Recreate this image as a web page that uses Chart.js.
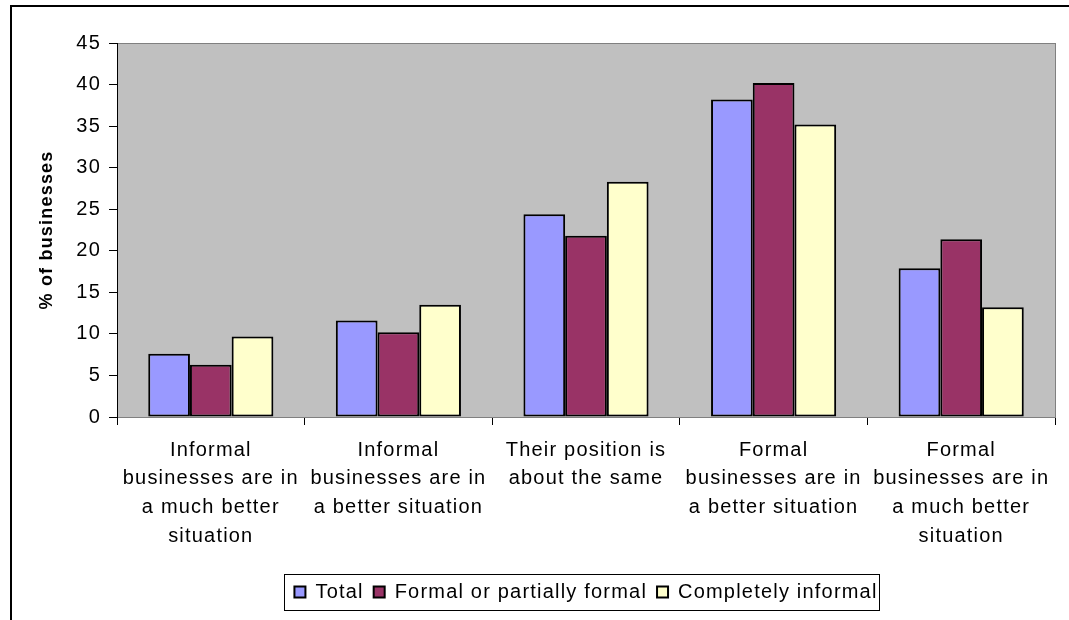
<!DOCTYPE html>
<html lang="en">

<head>
    <meta charset="UTF-8">
    <title>% of businesses</title>
    <script src="https://cdn.jsdelivr.net/npm/chart.js@4/dist/chart.umd.min.js"></script>
    <style>
        html, body { margin: 0; padding: 0; background: #fff; }
        #wrap { width: 1069px; height: 620px; }
    </style>
</head>

<body>
    <div id="wrap"><canvas id="chart" width="1069" height="620"></canvas></div>
    <script>
        const categories = [
            ['Informal', 'businesses are in', 'a much better', 'situation'],
            ['Informal', 'businesses are in', 'a better situation'],
            ['Their position is', 'about the same'],
            ['Formal', 'businesses are in', 'a better situation'],
            ['Formal', 'businesses are in', 'a much better', 'situation']
        ];
        const total = [7.6, 11.6, 24.4, 38.2, 17.9];
        const formalOrPartial = [6.3, 10.2, 21.8, 40.2, 21.4];
        const completelyInformal = [9.7, 13.5, 28.3, 35.2, 13.2];
        const yTicks = [0, 5, 10, 15, 20, 25, 30, 35, 40, 45];

        const FONT = 'Liberation Sans, Arial, sans-serif';
        const SPACING = '1.2px';

        // wide Excel-style text, grey plot area, frame round the chart, box round the legend
        const decor = {
            id: 'decor',
            beforeUpdate(chart) { chart.ctx.letterSpacing = SPACING; },
            beforeDraw(chart) {
                const { ctx, chartArea: a } = chart;
                ctx.letterSpacing = SPACING;
                ctx.save();
                ctx.fillStyle = '#c0c0c0';
                ctx.fillRect(a.left, a.top, a.right - a.left, a.bottom - a.top);
                ctx.strokeStyle = '#808080';
                ctx.lineWidth = 1;
                ctx.strokeRect(a.left + 0.5, a.top + 0.5, a.right - a.left, a.bottom - a.top);
                ctx.strokeStyle = '#000';
                ctx.lineWidth = 2;
                ctx.strokeRect(11, 6, 1200, 800);
                ctx.restore();
            },
            afterDraw(chart) {
                const boxes = chart.legend.legendHitBoxes;
                if (!boxes || !boxes.length) return;
                const l = Math.min(...boxes.map(b => b.left)) - 10;
                const r = Math.max(...boxes.map(b => b.left + b.width)) + 2;
                const t = boxes[0].top - 8;
                const h = boxes[0].height + 16;
                const ctx = chart.ctx;
                ctx.save();
                ctx.strokeStyle = '#000';
                ctx.lineWidth = 1;
                ctx.strokeRect(Math.round(l) + 0.5, Math.round(t) + 0.5, Math.round(r - l), Math.round(h));
                ctx.restore();
            }
        };

        const ds = (label, data, color) => ({
            label,
            data,
            backgroundColor: color,
            borderColor: '#000',
            borderWidth: 2,
            borderSkipped: false,
            categoryPercentage: 0.667,
            barPercentage: 1
        });

        new Chart(document.getElementById('chart'), {
            type: 'bar',
            data: {
                labels: categories,
                datasets: [
                    ds('Total', total, '#9999ff'),
                    ds('Formal or partially formal', formalOrPartial, '#993366'),
                    ds('Completely informal', completelyInformal, '#ffffcc')
                ]
            },
            options: {
                responsive: false,
                animation: false,
                layout: { padding: { top: 43, right: 14, bottom: 8, left: 0 } },
                scales: {
                    x: {
                        grid: {
                            offset: true,
                            drawOnChartArea: false,
                            drawTicks: true,
                            tickLength: 8,
                            color: '#000'
                        },
                        border: { color: '#808080' },
                        ticks: {
                            color: '#000',
                            padding: 11,
                            maxRotation: 0,
                            autoSkip: false,
                            font: { family: FONT, size: 20, lineHeight: 1.43 }
                        },
                        afterFit(scale) { scale.height = 155; }
                    },
                    y: {
                        min: 0,
                        max: 45,
                        afterBuildTicks(scale) { scale.ticks = yTicks.map(v => ({ value: v })); },
                        grid: {
                            drawOnChartArea: false,
                            drawTicks: true,
                            tickLength: 8,
                            color: '#000'
                        },
                        border: { color: '#000' },
                        ticks: {
                            color: '#000',
                            padding: 8,
                            font: { family: FONT, size: 20 }
                        },
                        title: {
                            display: true,
                            text: '% of businesses',
                            color: '#000',
                            padding: { top: 36, bottom: 0 },
                            font: { family: FONT, size: 18, weight: 'bold' }
                        },
                        afterFit(scale) { scale.width = 117; }
                    }
                },
                plugins: {
                    tooltip: { enabled: false },
                    legend: {
                        position: 'bottom',
                        fullSize: false,
                        labels: {
                            color: '#000',
                            boxWidth: 11,
                            boxHeight: 11,
                            padding: 10,
                            font: { family: FONT, size: 20 }
                        }
                    }
                }
            },
            plugins: [decor]
        });
    </script>
</body>

</html>
